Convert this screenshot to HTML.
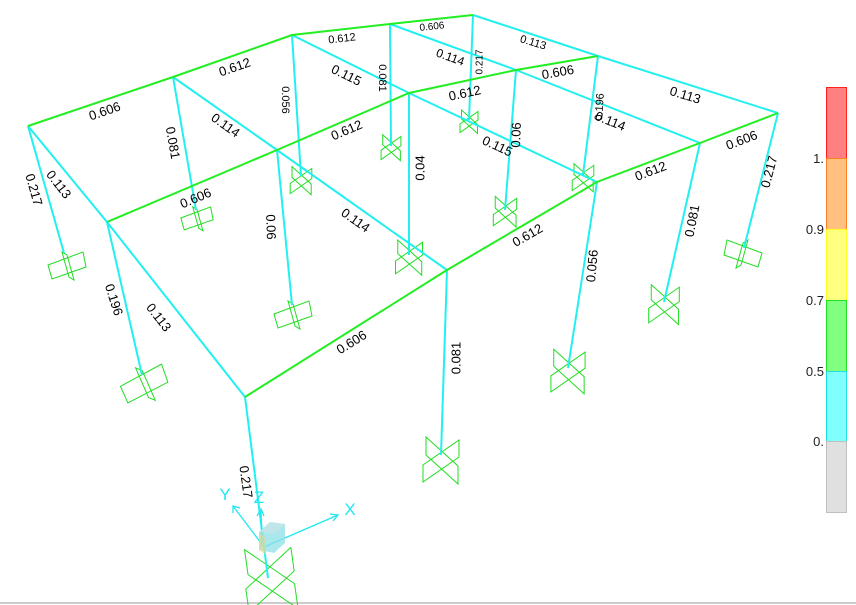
<!DOCTYPE html>
<html><head><meta charset="utf-8"><style>
html,body{margin:0;padding:0;background:#fff;}
svg{display:block;font-family:"Liberation Sans",sans-serif;}
</style></head><body>
<svg width="856" height="605" viewBox="0 0 856 605" xmlns="http://www.w3.org/2000/svg">
<defs>
<g id="sup" fill="none" stroke="#22dd22" stroke-width="1">
<polygon points="-15,-24 -15,-6 17,23 17,5" vector-effect="non-scaling-stroke"/>
<polygon points="18,-21 18,-4 -18,21 -18,4" vector-effect="non-scaling-stroke"/>
</g>
<g id="supL" fill="none" stroke="#22dd22" stroke-width="1">
<polygon points="-19,0 16,-13 19,2 -15,14" vector-effect="non-scaling-stroke"/>
<polygon points="-5,-13 0,-10 7,15 2,12" vector-effect="non-scaling-stroke"/>
</g>
</defs>
<rect width="856" height="605" fill="#fff"/>
<line x1="0" y1="603" x2="856" y2="603" stroke="#999" stroke-width="1"/>
<use href="#sup" transform="translate(270,580) rotate(-8) scale(1.4)"/>
<use href="#sup" transform="translate(441,461) scale(1)"/>
<use href="#sup" transform="translate(568,372) scale(0.95)"/>
<use href="#sup" transform="translate(664,305) scale(0.85)"/>
<use href="#supL" transform="translate(743,253) scale(-1,1)"/>
<use href="#supL" transform="translate(144,383) rotate(-8) scale(1.25)"/>
<use href="#supL" transform="translate(293,314) scale(1)"/>
<use href="#sup" transform="translate(409,258) scale(0.75)"/>
<use href="#sup" transform="translate(505,212) scale(0.65)"/>
<use href="#sup" transform="translate(583,178) scale(0.6)"/>
<use href="#supL" transform="translate(67,265) scale(1)"/>
<use href="#supL" transform="translate(197,218) scale(0.85)"/>
<use href="#sup" transform="translate(301,181) scale(0.6)"/>
<use href="#sup" transform="translate(391,148) scale(0.55)"/>
<use href="#sup" transform="translate(469,122) scale(0.5)"/>
<g stroke="#22f0f0" stroke-width="2" fill="none">
<line x1="28" y1="126" x2="64" y2="253"/>
<line x1="173" y1="77" x2="196" y2="210"/>
<line x1="292" y1="35" x2="301" y2="176"/>
<line x1="390" y1="24" x2="391" y2="146"/>
<line x1="473" y1="15" x2="469" y2="120"/>
<line x1="107" y1="222" x2="142" y2="375"/>
<line x1="277" y1="150" x2="292" y2="305"/>
<line x1="409" y1="93" x2="409" y2="255"/>
<line x1="516" y1="70" x2="505" y2="210"/>
<line x1="598" y1="56" x2="583" y2="175"/>
<line x1="245" y1="397" x2="268" y2="578"/>
<line x1="447" y1="270" x2="441" y2="455"/>
<line x1="597" y1="182" x2="568" y2="368"/>
<line x1="700" y1="143" x2="664" y2="302"/>
<line x1="778" y1="113" x2="744" y2="248"/>
<polyline points="28,126 107,222 245,397"/>
<polyline points="173,77 277,150 447,270"/>
<polyline points="292,35 409,93 597,182"/>
<polyline points="390,24 516,70 700,143"/>
<polyline points="473,15 598,56 778,113"/>
</g>
<g stroke="#22ee22" stroke-width="2" fill="none">
<polyline points="28,126 173,77 292,35 390,24 473,15"/>
<polyline points="107,222 277,150 409,93 516,70 598,56"/>
<polyline points="245,397 447,270 597,182 700,143 778,113"/>
</g>
<g font-size="13" fill="#000" text-anchor="middle" dominant-baseline="middle">
<text transform="translate(105,112) rotate(-19)">0.606</text>
<text transform="translate(235,68) rotate(-19)">0.612</text>
<text transform="translate(342,39) rotate(-7)" font-size="11">0.612</text>
<text transform="translate(432,27) rotate(-6)" font-size="10">0.606</text>
<text transform="translate(196,199) rotate(-23)">0.606</text>
<text transform="translate(347,131) rotate(-23)">0.612</text>
<text transform="translate(465,94) rotate(-12)">0.612</text>
<text transform="translate(558,73) rotate(-10)">0.606</text>
<text transform="translate(352,343) rotate(-32)">0.606</text>
<text transform="translate(528,236) rotate(-30)">0.612</text>
<text transform="translate(651,172) rotate(-21)">0.612</text>
<text transform="translate(742,141) rotate(-21)">0.606</text>
<text transform="translate(58,185) rotate(52)">0.113</text>
<text transform="translate(158,318) rotate(52)">0.113</text>
<text transform="translate(225,126) rotate(35)">0.114</text>
<text transform="translate(355,221) rotate(35)">0.114</text>
<text transform="translate(346,76) rotate(26)">0.115</text>
<text transform="translate(497,147) rotate(25)">0.115</text>
<text transform="translate(450,58) rotate(20)" font-size="12">0.114</text>
<text transform="translate(610,122) rotate(22)">0.114</text>
<text transform="translate(533,43) rotate(17)" font-size="11">0.113</text>
<text transform="translate(685,96) rotate(17)">0.113</text>
<text transform="translate(33,190) rotate(74)">0.217</text>
<text transform="translate(113,300) rotate(72)">0.196</text>
<text transform="translate(172,143) rotate(80)">0.081</text>
<text transform="translate(270,227) rotate(88)">0.06</text>
<text transform="translate(285,100) rotate(90)" font-size="11">0.056</text>
<text transform="translate(382,78) rotate(90)" font-size="11">0.081</text>
<text transform="translate(421,168) rotate(-90)">0.04</text>
<text transform="translate(480,62) rotate(-90)" font-size="10">0.217</text>
<text transform="translate(517,135) rotate(-88)">0.06</text>
<text transform="translate(600,107) rotate(-86)" font-size="11">0.196</text>
<text transform="translate(593,266) rotate(-85)">0.056</text>
<text transform="translate(457,358) rotate(-90)">0.081</text>
<text transform="translate(693,221) rotate(-79)">0.081</text>
<text transform="translate(770,172) rotate(-75)">0.217</text>
<text transform="translate(245,482) rotate(82)">0.217</text>
</g>
<g stroke="#22e8f0" stroke-width="1.3" fill="none">
<line x1="264" y1="547" x2="233" y2="506"/>
<polyline points="233,513 233,506 240,508"/>
<line x1="264" y1="547" x2="338" y2="515"/>
<polyline points="330,514 338,515 333,521"/>
<line x1="262" y1="547" x2="261" y2="509"/>
<polyline points="257,516 261,509 264,516"/>
</g>
<polygon points="259,532 270,522 285,524 285,543 274,553 259,550" fill="#8fe0e8" opacity="0.75"/>
<polygon points="259,532 270,522 285,524 274,534" fill="#c8e4e8" opacity="0.8"/>
<polygon points="259,532 266,538 266,555 259,550" fill="#e8d890" opacity="0.6"/>
<g fill="#22e8f0" font-size="17" text-anchor="middle">
<text x="225" y="500">Y</text>
<text x="259" y="503">Z</text>
<text x="350" y="515">X</text>
</g>
<rect x="826.5" y="87.5" width="20" height="71" fill="#ff8080" stroke="#ff2020"/>
<rect x="826.5" y="158.5" width="20" height="71" fill="#ffc080" stroke="#ff8020"/>
<rect x="826.5" y="229.5" width="20" height="71" fill="#ffff80" stroke="#ffff20"/>
<rect x="826.5" y="300.5" width="20" height="71" fill="#80ff80" stroke="#20e020"/>
<rect x="826.5" y="371.5" width="20" height="70" fill="#80ffff" stroke="#20e0e0"/>
<rect x="826.5" y="441.5" width="20" height="71" fill="#e0e0e0" stroke="#c0c0c0"/>
<g font-size="13" fill="#222" text-anchor="end">
<text x="824" y="163">1.</text>
<text x="824" y="234">0.9</text>
<text x="824" y="305">0.7</text>
<text x="824" y="376">0.5</text>
<text x="824" y="446">0.</text>
</g>
</svg>
</body></html>
